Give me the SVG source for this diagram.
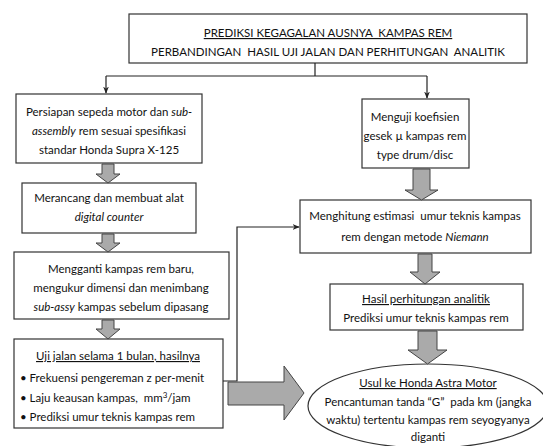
<svg xmlns="http://www.w3.org/2000/svg" width="543" height="446" viewBox="0 0 543 446">
<style>
.box{fill:#fff;stroke:#333;stroke-width:1.2}
.t{font-family:Lato,"Liberation Sans",sans-serif;font-size:11.5px;fill:#111;text-anchor:middle;white-space:pre}
.l{text-anchor:start}
.u{text-decoration:underline}
.i{font-style:italic}
.ba{fill:#aaa;stroke:#444;stroke-width:1}
.ln{fill:none;stroke:#222;stroke-width:1.2}
</style>
<defs>
<marker id="ah" viewBox="0 0 10 10" refX="9" refY="5" markerWidth="6" markerHeight="6" orient="auto"><path d="M0,1 L10,5 L0,9 L3,5 Z" fill="#222"/></marker>
</defs>
<g id="title">
<rect class="box" x="129" y="14" width="398" height="49"/>
<text class="t u" x="328" y="37" xml:space="preserve">PREDIKSI KEGAGALAN AUSNYA  KAMPAS REM</text>
<text class="t" x="328" y="56" xml:space="preserve">PERBANDINGAN  HASIL UJI JALAN DAN PERHITUNGAN  ANALITIK</text>
</g>
<g id="n1">
<rect class="box" x="16" y="94" width="186" height="69"/>
<text class="t" x="109" y="116">Persiapan sepeda motor dan <tspan class="i">sub-</tspan></text>
<text class="t" x="109" y="135"><tspan class="i">assembly</tspan> rem sesuai spesifikasi</text>
<text class="t" x="109" y="154">standar Honda Supra X-125</text>
</g>
<g id="n2">
<rect class="box" x="22" y="183" width="174" height="50"/>
<text class="t" x="109" y="202">Merancang dan membuat alat</text>
<text class="t i" x="109" y="221">digital counter</text>
</g>
<g id="n3">
<rect class="box" x="14" y="252" width="215" height="67"/>
<text class="t" x="121" y="273">Mengganti kampas rem baru,</text>
<text class="t" x="121" y="292">mengukur dimensi dan menimbang</text>
<text class="t" x="121" y="311"><tspan class="i">sub-assy</tspan> kampas sebelum dipasang</text>
</g>
<g id="n4">
<rect class="box" x="14" y="339" width="209" height="89"/>
<text class="t u" x="118" y="360">Uji jalan selama 1 bulan, hasilnya</text>
<text class="t l" x="20" y="382">• Frekuensi pengereman z per-menit</text>
<text class="t l" x="20" y="402" xml:space="preserve">• Laju keausan kampas,  mm<tspan dy="-4" font-size="8">3</tspan><tspan dy="4">/jam</tspan></text>
<text class="t l" x="20" y="421">• Prediksi umur teknis kampas rem</text>
</g>
<g id="n5">
<rect class="box" x="362" y="99" width="107" height="69"/>
<text class="t" x="415" y="121">Menguji koefisien</text>
<text class="t" x="415" y="140">gesek µ kampas rem</text>
<text class="t" x="415" y="159">type drum/disc</text>
</g>
<g id="n6">
<rect class="box" x="300" y="200" width="231" height="53"/>
<text class="t" x="415" y="220" xml:space="preserve">Menghitung estimasi  umur teknis kampas</text>
<text class="t" x="415" y="241">rem dengan metode <tspan class="i">Niemann</tspan></text>
</g>
<g id="n7">
<rect class="box" x="330" y="284" width="193" height="46"/>
<text class="t u" x="426" y="303">Hasil perhitungan analitik</text>
<text class="t" x="426" y="322">Prediksi umur teknis kampas rem</text>
</g>
<g id="n8">
<ellipse class="box" cx="428" cy="406" rx="120" ry="42"/>
<text class="t u" x="428" y="387">Usul ke Honda Astra Motor</text>
<text class="t" x="428" y="406" xml:space="preserve">Pencantuman tanda “G”  pada km (jangka</text>
<text class="t" x="428" y="424">waktu) tertentu kampas rem seyogyanya</text>
<text class="t" x="428" y="441">diganti</text>
</g>
<g id="connectors">
<path class="ln" d="M315,63 V76 M106,76 H427"/>
<path class="ln" d="M106,76 V93" marker-end="url(#ah)"/>
<path class="ln" d="M427,76 V98" marker-end="url(#ah)"/>
<path class="ln" d="M223,381 H237 V227 H299" marker-end="url(#ah)"/>
<path class="ba" d="M102,164 H114 V174 H120 L108,183 L96,174 H102 Z"/>
<path class="ba" d="M102,234 H114 V243 H120 L108,252 L96,243 H102 Z"/>
<path class="ba" d="M102,320 H114 V329 H120 L108,339 L96,329 H102 Z"/>
<path class="ba" d="M413,169 H430 V190 H438 L421.5,200 L405,190 H413 Z"/>
<path class="ba" d="M418,254 H432 V272 H440 L425,284 L410,272 H418 Z"/>
<path class="ba" d="M418,331 H437 V350 H447 L427.5,364 L408,350 H418 Z"/>
<path class="ba" d="M228,382 H284 V366 L304,393 L284,420 V405 H228 Z"/>
</g>
</svg>
